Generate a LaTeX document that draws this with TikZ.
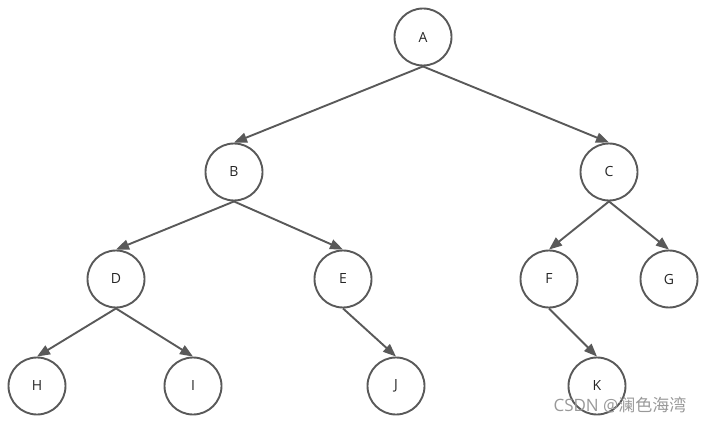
\documentclass[tikz,border=0pt]{standalone}
\usepackage{fontspec}
\setmainfont{Open Sans}
\newfontfamily\cjk{Noto Sans CJK SC}
\usetikzlibrary{arrows.meta}
\definecolor{edgegray}{HTML}{595959}
\begin{document}
\begin{tikzpicture}[x=1pt,y=-1pt,
  tnode/.style={circle,draw=edgegray,line width=1.9pt,minimum size=57pt,inner sep=0pt,font=\fontsize{14}{16}\selectfont,text=black!85},
  tedge/.style={draw=edgegray,line width=1.9pt,-{Triangle[length=13pt,width=10pt]}}]
\useasboundingbox (0,0) rectangle (704,422);
\node[tnode] (A) at (423,37) {A};
\node[tnode] (B) at (234,172) {B};
\node[tnode] (C) at (609,172) {C};
\node[tnode] (D) at (116,279) {D};
\node[tnode] (E) at (343,279) {E};
\node[tnode] (F) at (549,279) {F};
\node[tnode] (G) at (669,279) {G};
\node[tnode] (H) at (37,386) {H};
\node[tnode] (I) at (193,386) {I};
\node[tnode] (J) at (396,386) {J};
\node[tnode] (K) at (597,386) {K};
\draw[tedge] (A.south) -- (B.north);
\draw[tedge] (A.south) -- (C.north);
\draw[tedge] (B.south) -- (D.north);
\draw[tedge] (B.south) -- (E.north);
\draw[tedge] (C.south) -- (F.north);
\draw[tedge] (C.south) -- (G.north);
\draw[tedge] (D.south) -- (H.north);
\draw[tedge] (D.south) -- (I.north);
\draw[tedge] (E.south) -- (J.north);
\draw[tedge] (F.south) -- (K.north);
\node[text=black!40,font=\fontsize{17}{19}\selectfont] (wm) at (620,405) {CSDN @{\cjk 澜色海湾}};
\end{tikzpicture}
\end{document}
